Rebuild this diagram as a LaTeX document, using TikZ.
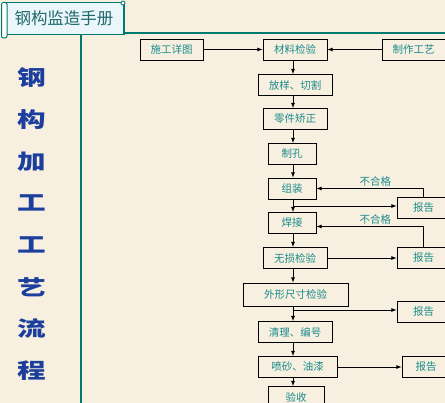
\documentclass[tikz,border=0pt]{standalone}
\usepackage{fontspec}
\setmainfont{Noto Sans CJK SC}
\usepackage{xcolor}
\usepackage{tikz}

\definecolor{paper}{HTML}{F7F0E1}
\definecolor{rulecol}{HTML}{00796F}
\definecolor{boxtext}{HTML}{1A8A8A}
\definecolor{titletext}{HTML}{1F6A6A}
\definecolor{titlefill}{HTML}{EAF6FA}
\definecolor{sideblue}{HTML}{1C3E9C}

\begin{document}
\begin{tikzpicture}[
    x=1pt, y=-1pt,
    box/.style={draw, line width=0.8pt, inner sep=0pt, minimum height=21pt,
        text=boxtext, font=\fontsize{10.5}{12}\selectfont},
    lbl/.style={text=boxtext, font=\fontsize{10.5}{12}\selectfont, inner sep=1.5pt},
    arr/.style={draw, line width=0.8pt, -latex},
    rule/.style={draw=rulecol, line width=2.4pt},
    sidechar/.style={text=sideblue, font=\fontsize{22}{24}\selectfont\bfseries}
]
\useasboundingbox (0,0) rectangle (445,403);
\fill[paper] (0,0) rectangle (445,403);

% frame lines and title
\draw[rule] (120,33) -- (445,33);
\draw[rule] (81,33) -- (81,403);
\node[draw=rulecol, line width=1.2pt, fill=titlefill, minimum width=120pt,
    minimum height=32pt, inner sep=0pt, text=titletext,
    font=\fontsize{16.5}{18}\selectfont] (title) at (64,18.5) {钢构监造手册};
\draw[draw=rulecol, line width=1pt, fill=white, rounded corners=2pt] (1.5,2.5) rectangle (7,38);
\draw[draw=rulecol, line width=0.8pt, fill=white] (123,3) circle (2pt);

% side title
\foreach \c [count=\i] in {钢,构,加,工,工,艺,流,程}
    \node[sidechar] (side\i) at (32,{78+41.8*(\i-1)}) {\scalebox{1.3}[0.95]{\c}};

% flow boxes
\coordinate (spine) at (293,0);
\node[box, minimum width=63pt] (design) at (171.5,49.5) {施工详图};
\node[box, minimum width=64pt] (check) at (295,49.5) {材料检验};
\node[box, minimum width=63pt] (craft) at (413.5,49.5) {制作工艺};
\node[box, minimum width=74pt] (cut) at (295,85) {放样、切割};
\node[box, minimum width=64pt] (fix) at (295,119) {零件矫正};
\node[box, minimum width=48pt] (hole) at (292,154) {制孔};
\node[box, minimum width=48pt] (asm) at (292,188.5) {组装};
\node[box, minimum width=48pt] (weld) at (292,223) {焊接};
\node[box, minimum width=64pt] (ndt) at (295,258) {无损检验};
\node[box, minimum width=105pt, minimum height=23pt] (shape) at (295.5,294.5) {外形尺寸检验};
\node[box, minimum width=74pt] (clean) at (295,332) {清理、编号};
\node[box, minimum width=79pt] (paint) at (297.5,367) {喷砂、油漆};
\node[box, minimum width=56pt] (accept) at (296,397) {验收};
\node[box, minimum width=53pt] (repA) at (423.5,208) {报告};
\node[box, minimum width=53pt] (repB) at (423.5,258) {报告};
\node[box, minimum width=53pt] (repC) at (423.5,312) {报告};
\node[box, minimum width=48pt] (repD) at (426,367) {报告};

% main chain
\draw[arr] (design) -- (check);
\draw[arr] (craft) -- (check);
\foreach \a/\b in {check/cut, cut/fix, fix/hole, hole/asm, asm/weld,
    weld/ndt, ndt/shape, shape/clean, clean/paint, paint/accept}
    \draw[arr] (\a.south -| spine) -- (\b.north -| spine);

% reports
\coordinate (splitA) at (293,206);
\coordinate (splitC) at (293,310);
\draw[arr] (splitA) -- (splitA -| repA.west);
\draw[arr] (splitC) -- (splitC -| repC.west);
\draw[arr] (ndt) -- (repB);
\draw[arr] (paint.east) -- (paint.east -| repD.west);

% feedback
\draw[arr] (repA.north) |- (asm.east) node[lbl, pos=0.725, above] {不合格};
\draw[arr] (repB.north) |- ([yshift=-3.5pt]weld.east) node[lbl, pos=0.725, above] {不合格};
\end{tikzpicture}
\end{document}
